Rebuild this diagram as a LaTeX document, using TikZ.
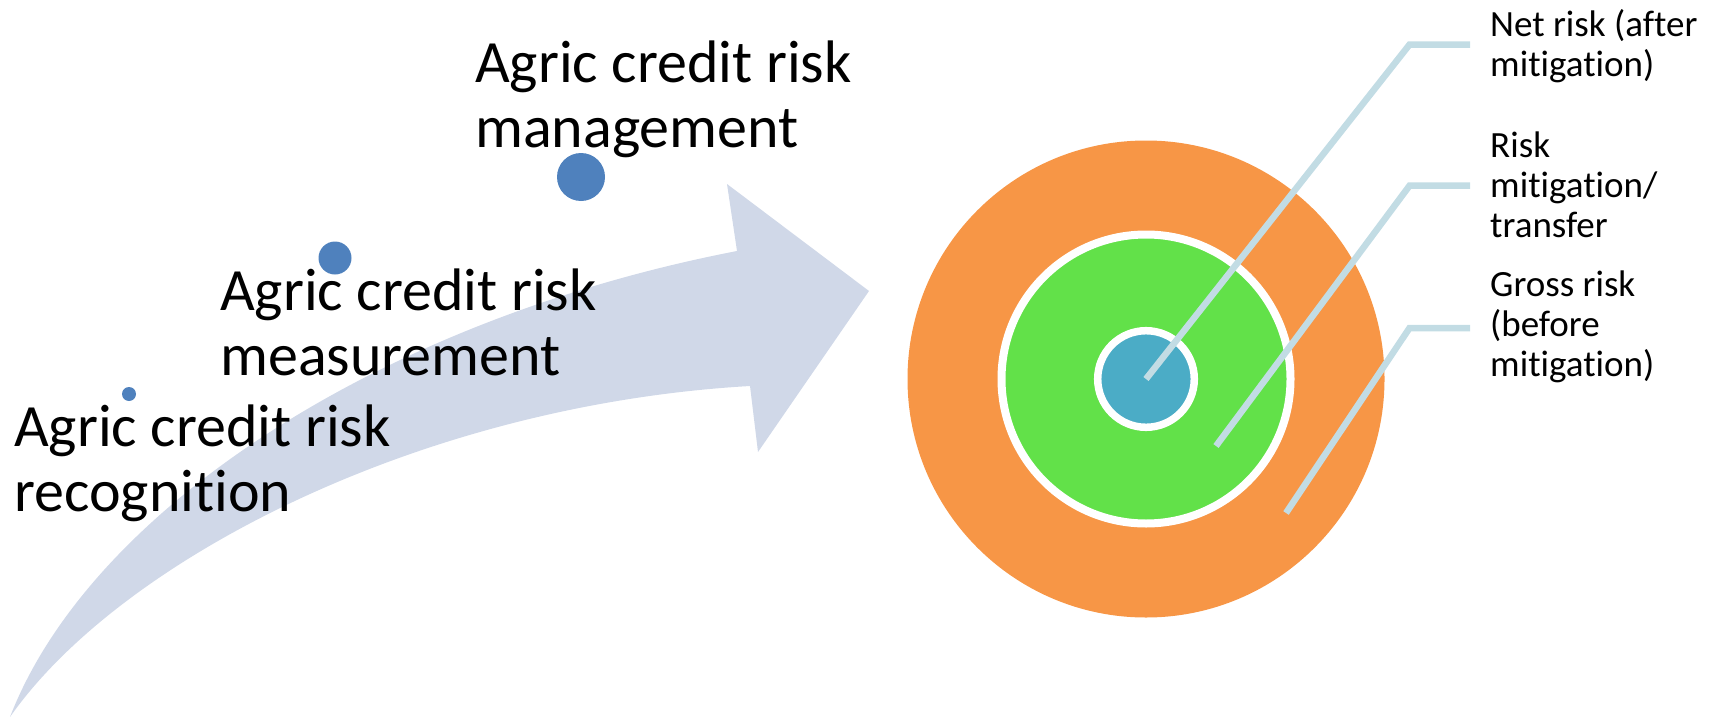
\documentclass[tikz,border=0pt]{standalone}
\usepackage{fontspec}
\setmainfont{Carlito}[Ligatures={NoCommon}]
\definecolor{arrowfill}{RGB}{208,216,232}
\definecolor{dotblue}{RGB}{79,129,189}
\definecolor{grossorange}{RGB}{247,150,70}
\definecolor{mitgreen}{RGB}{98,225,73}
\definecolor{netblue}{RGB}{75,172,198}
\definecolor{leader}{RGB}{194,220,228}
\tikzset{
  % labels are anchored at the baseline of their last line
  steplabel/.style={anchor=base west, inner sep=0pt, align=left,
    font=\fontsize{60}{65}\selectfont},
  ringlabel/.style={anchor=base west, inner sep=0pt, align=left,
    font=\fontsize{37}{40}\selectfont},
  stepdot/.style={circle, fill=dotblue, inner sep=0pt},
  ring/.style={circle, inner sep=0pt, draw=white},
  leaderline/.style={draw=leader, line width=6.5pt, line join=miter},
}
\begin{document}
\begin{tikzpicture}[x=1pt,y=-1pt]
\useasboundingbox (0,0) rectangle (1721,717);

% curved progress arrow
\fill[arrowfill] (10,717) .. controls (90,510) and (380,320) .. (737,251)
  -- (727,184) -- (869,291) -- (758,452) -- (750,386)
  .. controls (420,405) and (120,560) .. (10,717) -- cycle;

% step markers
\node[stepdot, minimum size=14pt] (dot1) at (129,394) {};
\node[stepdot, minimum size=33pt] (dot2) at (335,258) {};
\node[stepdot, minimum size=48pt] (dot3) at (581,177) {};

% step labels
\node[steplabel] (recog) at (14,511.7) {Agric credit risk\\recognition};
\node[steplabel] (meas) at (220,375) {Agric credit risk\\measurement};
\node[steplabel] (mgmt) at (475,147) {Agric credit risk\\management};

% concentric risk rings
\node[circle, inner sep=0pt, fill=grossorange, minimum size=477pt] (gross) at (1146,379) {};
\node[ring, line width=8pt, fill=mitgreen, minimum size=289pt] (mit) at (1146,379) {};
\node[ring, line width=7.5pt, fill=netblue, minimum size=96.6pt] (net) at (1146,379) {};

% ring labels
\node[ringlabel] (netlbl) at (1490,77) {Net risk (after\\mitigation)};
\node[ringlabel] (mitlbl) at (1490,237) {Risk\\mitigation/\\transfer};
\node[ringlabel] (grosslbl) at (1490,376) {Gross risk\\(before\\mitigation)};

% leader lines
\coordinate (mitpt) at (1216,446);
\coordinate (grosspt) at (1286,513);
\coordinate (netelbow) at (1409.5,44.6);
\coordinate (mitelbow) at (1409.5,185.7);
\coordinate (grosselbow) at (1409.5,328);
\coordinate (netend) at (1470,44.6);
\coordinate (mitend) at (1470,185.7);
\coordinate (grossend) at (1470,328);
\draw[leaderline] (net.center) -- (netelbow) -- (netend);
\draw[leaderline] (mitpt) -- (mitelbow) -- (mitend);
\draw[leaderline] (grosspt) -- (grosselbow) -- (grossend);
\end{tikzpicture}
\end{document}
